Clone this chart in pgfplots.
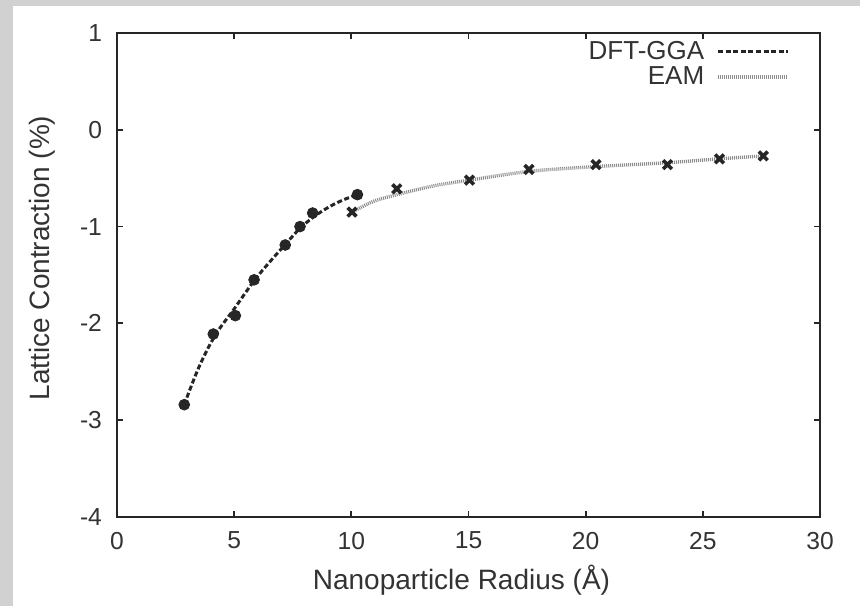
\documentclass[border=0pt]{standalone}
\usepackage{fontspec}
\setmainfont{Liberation Sans}
\usepackage{pgfplots}
\pgfplotsset{compat=1.18}
\usetikzlibrary{backgrounds,calc}
\definecolor{txt}{HTML}{333333}
\begin{document}
\begin{tikzpicture}
\begin{axis}[
  name=ax,
  scale only axis,
  width=351.5pt, height=242pt,
  xmin=0, xmax=30, ymin=-4, ymax=1,
  xtick={0,5,...,30}, ytick={-4,-3,...,1},
  tick align=inside, tickpos=both,
  major tick length=3pt,
  axis line style={line width=0.9pt, black!85},
  tick style={line width=0.9pt, black!85},
  /pgf/number format/assume math mode=true,
  ticklabel style={font=\fontsize{12.3}{14}\selectfont, text=txt},
  xticklabel style={yshift=-4pt},
  yticklabel style={xshift=-4pt},
  xlabel={Nanoparticle Radius (Å)},
  ylabel={Lattice Contraction (\%)},
  label style={font=\fontsize{14}{16}\selectfont, text=txt},
  xlabel style={at={(axis description cs:0.49,-0.130)}, anchor=center},
  ylabel style={at={(axis description cs:-0.1067,0.535)}, anchor=center, rotate=0},
  legend cell align=right,
  legend plot pos=right,
  legend style={draw=none, fill=none, at={(rel axis cs:1,1)}, anchor=north east,
    xshift=-14pt, yshift=-1pt, font=\fontsize{13}{14}\selectfont, text=txt,
    row sep=-2pt, inner sep=1pt},
  legend image code/.code={\path (0pt,0pt); \draw[#1] (4pt,0pt) -- (39pt,0pt);},
  clip=false,
]
\coordinate (SW) at (rel axis cs:0,0);
\coordinate (NE) at (rel axis cs:1,1);
% DFT-GGA fitted curve
\addplot[black!85, line width=1.5pt, dash pattern=on 2.5pt off 1.3pt, smooth, tension=0.6] coordinates {
 (2.87,-2.84) (3.5,-2.45) (4.2,-2.12) (5.0,-1.85) (5.85,-1.56) (6.5,-1.37)
 (7.2,-1.18) (7.8,-1.02) (8.45,-0.89) (9.1,-0.79) (9.7,-0.72) (10.26,-0.67)
};
\addlegendentry{DFT-GGA}
% EAM fitted curve
\addplot[black!45, line width=1.7pt, dash pattern=on 0.5pt off 0.5pt, smooth, tension=0.5] coordinates {
 (10.03,-0.85) (10.94,-0.74) (11.94,-0.67) (13.5,-0.58) (15.04,-0.52) (17.58,-0.43)
 (20.44,-0.38) (23.49,-0.34) (25.71,-0.30) (27.58,-0.27)
};
\addlegendentry{EAM}
% DFT-GGA data
\addplot[only marks, mark=*, mark size=2.7pt, black!85, forget plot] coordinates {
 (2.87,-2.84) (4.11,-2.11) (5.05,-1.92) (5.85,-1.55) (7.18,-1.19)
 (7.81,-1.00) (8.35,-0.86) (10.26,-0.67)
};
% EAM data
\addplot[only marks, mark=x, mark size=3.1pt, black!85, mark options={line width=1.8pt}, forget plot] coordinates {
 (10.03,-0.85) (11.94,-0.61) (15.04,-0.52) (17.58,-0.41) (20.44,-0.36)
 (23.49,-0.36) (25.71,-0.30) (27.58,-0.27)
};
\end{axis}
\begin{scope}[on background layer]
\fill[black!18] ($(SW)+(-58.5pt,-44.5pt)$) rectangle ($(NE)+(20pt,16.5pt)$);
\fill[white] ($(SW)+(-52pt,-44.5pt)$) rectangle ($(NE)+(20pt,13.5pt)$);
\end{scope}
\end{tikzpicture}
\end{document}
